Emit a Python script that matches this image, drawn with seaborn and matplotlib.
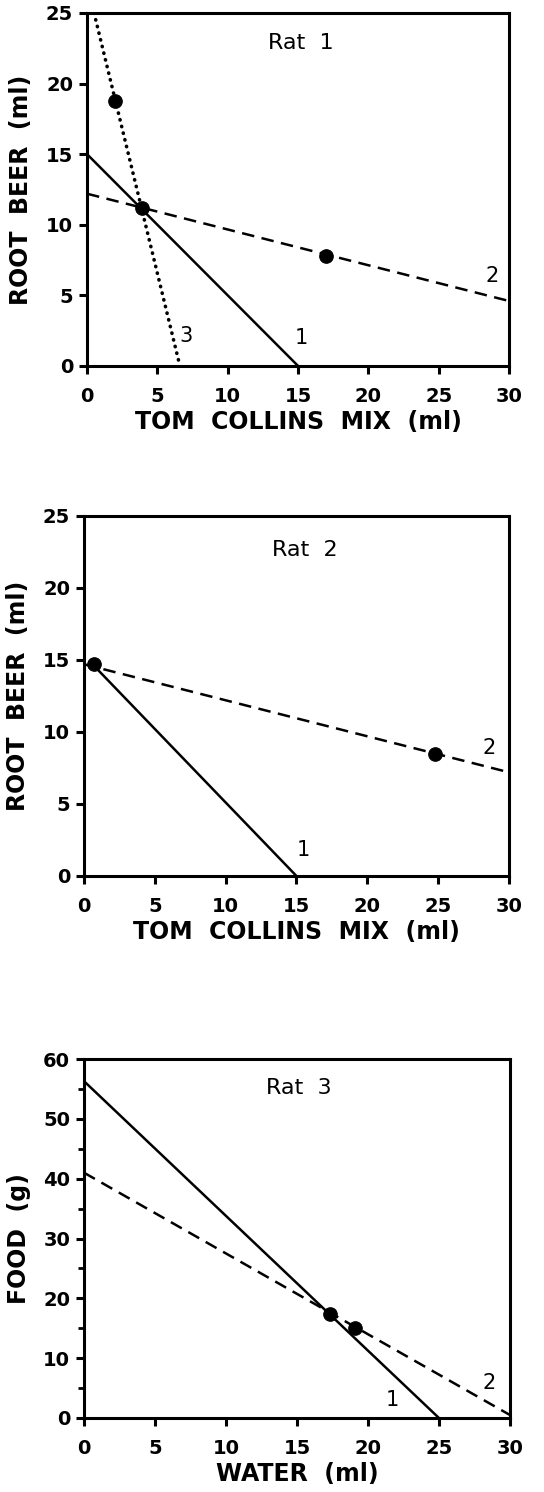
import numpy as np
import pandas as pd
import matplotlib
matplotlib.use("Agg")
import matplotlib.pyplot as plt
import seaborn as sns

sns.set_style("ticks")
plt.rcParams['font.family'] = ['DejaVu Sans']
plt.rcParams['text.color'] = 'black'
plt.rcParams['axes.labelcolor'] = 'black'
plt.rcParams['xtick.color'] = 'black'
plt.rcParams['ytick.color'] = 'black'

# Rat 1: budget lines (end points) and chosen points
r1_line1_x = [0, 15]
r1_line1_y = [15, 0]
r1_line2_x = [0, 30]
r1_line2_y = [12.2, 4.6]
r1_line3_x = [0.5, 6.6]
r1_line3_y = [25, 0]
r1_pts_x = [2.0, 3.9, 17.0]
r1_pts_y = [18.8, 11.2, 7.8]

# Rat 2
r2_line1_x = [0.7, 15]
r2_line1_y = [14.6, 0]
r2_line2_x = [0, 30]
r2_line2_y = [14.7, 7.2]
r2_pts_x = [0.7, 24.8]
r2_pts_y = [14.7, 8.5]

# Rat 3
r3_line1_x = [0, 25]
r3_line1_y = [56.3, 0]
r3_line2_x = [0, 30]
r3_line2_y = [41.0, 0.5]
r3_pts_x = [17.3, 19.1]
r3_pts_y = [17.3, 15.1]

x_ticks = [0, 5, 10, 15, 20, 25, 30]
rb_ticks = [0, 5, 10, 15, 20, 25]
food_ticks = [0, 10, 20, 30, 40, 50, 60]

LW = 1.8
DASH = (0, (5, 3))
DOT = (0, (0.1, 1.8))

fig = plt.figure(figsize=(5.44, 14.92), dpi=100)
ax1 = fig.add_axes([0.160, 0.7547, 0.776, 0.2366])
ax2 = fig.add_axes([0.1544, 0.4129, 0.781, 0.2413])
ax3 = fig.add_axes([0.1544, 0.0496, 0.783, 0.2406])


def line(ax, xs, ys, ls, lw=LW, cap='butt'):
    df = pd.DataFrame({'x': xs, 'y': ys})
    sns.lineplot(data=df, x='x', y='y', ax=ax, color='black', linewidth=lw,
                 linestyle=ls, solid_capstyle=cap, dash_capstyle=cap)


def points(ax, xs, ys):
    df = pd.DataFrame({'x': xs, 'y': ys})
    sns.scatterplot(data=df, x='x', y='y', ax=ax, color='black', s=95,
                    edgecolor='black', zorder=5)


def style(ax, ylim, yticks, xlabel, ylabel, minor=None):
    ax.set_xlim(0, 30)
    ax.set_ylim(*ylim)
    ax.set_xticks(x_ticks)
    ax.set_yticks(yticks)
    if minor is not None:
        ax.set_yticks(minor, minor=True)
        ax.tick_params(axis='y', which='minor', direction='out', length=4, width=2)
    for s in ax.spines.values():
        s.set_visible(True)
        s.set_linewidth(2.2)
        s.set_color('black')
    ax.tick_params(axis='both', which='major', direction='out', length=6,
                   width=2.2, labelsize=14, colors='black')
    ax.tick_params(axis='x', pad=9)
    ax.tick_params(axis='y', pad=4)
    for lab in ax.get_xticklabels() + ax.get_yticklabels():
        lab.set_fontweight('bold')
    ax.set_xlabel(xlabel, fontsize=17, fontweight='bold', labelpad=3)
    ax.set_ylabel(ylabel, fontsize=17, fontweight='bold', labelpad=9)


# Rat 1
line(ax1, r1_line1_x, r1_line1_y, '-')
line(ax1, r1_line2_x, r1_line2_y, DASH)
line(ax1, r1_line3_x, r1_line3_y, DOT, lw=2.6, cap='round')
points(ax1, r1_pts_x, r1_pts_y)
ax1.text(15.2, 22.9, "Rat  1", fontsize=16, ha='center', va='center')
ax1.text(7.0, 2.1, "3", fontsize=15, ha='center', va='center')
ax1.text(15.2, 2.0, "1", fontsize=15, ha='center', va='center')
ax1.text(28.8, 6.4, "2", fontsize=15, ha='center', va='center')
style(ax1, (0, 25), rb_ticks, "TOM  COLLINS  MIX  (ml)", "ROOT  BEER  (ml)")

# Rat 2
line(ax2, r2_line1_x, r2_line1_y, '-')
line(ax2, r2_line2_x, r2_line2_y, DASH)
points(ax2, r2_pts_x, r2_pts_y)
ax2.text(15.6, 22.6, "Rat  2", fontsize=16, ha='center', va='center')
ax2.text(15.5, 1.8, "1", fontsize=15, ha='center', va='center')
ax2.text(28.6, 8.9, "2", fontsize=15, ha='center', va='center')
style(ax2, (0, 25), rb_ticks, "TOM  COLLINS  MIX  (ml)", "ROOT  BEER  (ml)")

# Rat 3
line(ax3, r3_line1_x, r3_line1_y, '-')
line(ax3, r3_line2_x, r3_line2_y, DASH)
points(ax3, r3_pts_x, r3_pts_y)
ax3.text(15.1, 55.2, "Rat  3", fontsize=16, ha='center', va='center')
ax3.text(21.7, 3.0, "1", fontsize=15, ha='center', va='center')
ax3.text(28.5, 5.8, "2", fontsize=15, ha='center', va='center')
style(ax3, (0, 60), food_ticks, "WATER  (ml)", "FOOD  (g)",
      minor=[5, 15, 25, 35, 45, 55])

fig.savefig("out.png", dpi=100)
